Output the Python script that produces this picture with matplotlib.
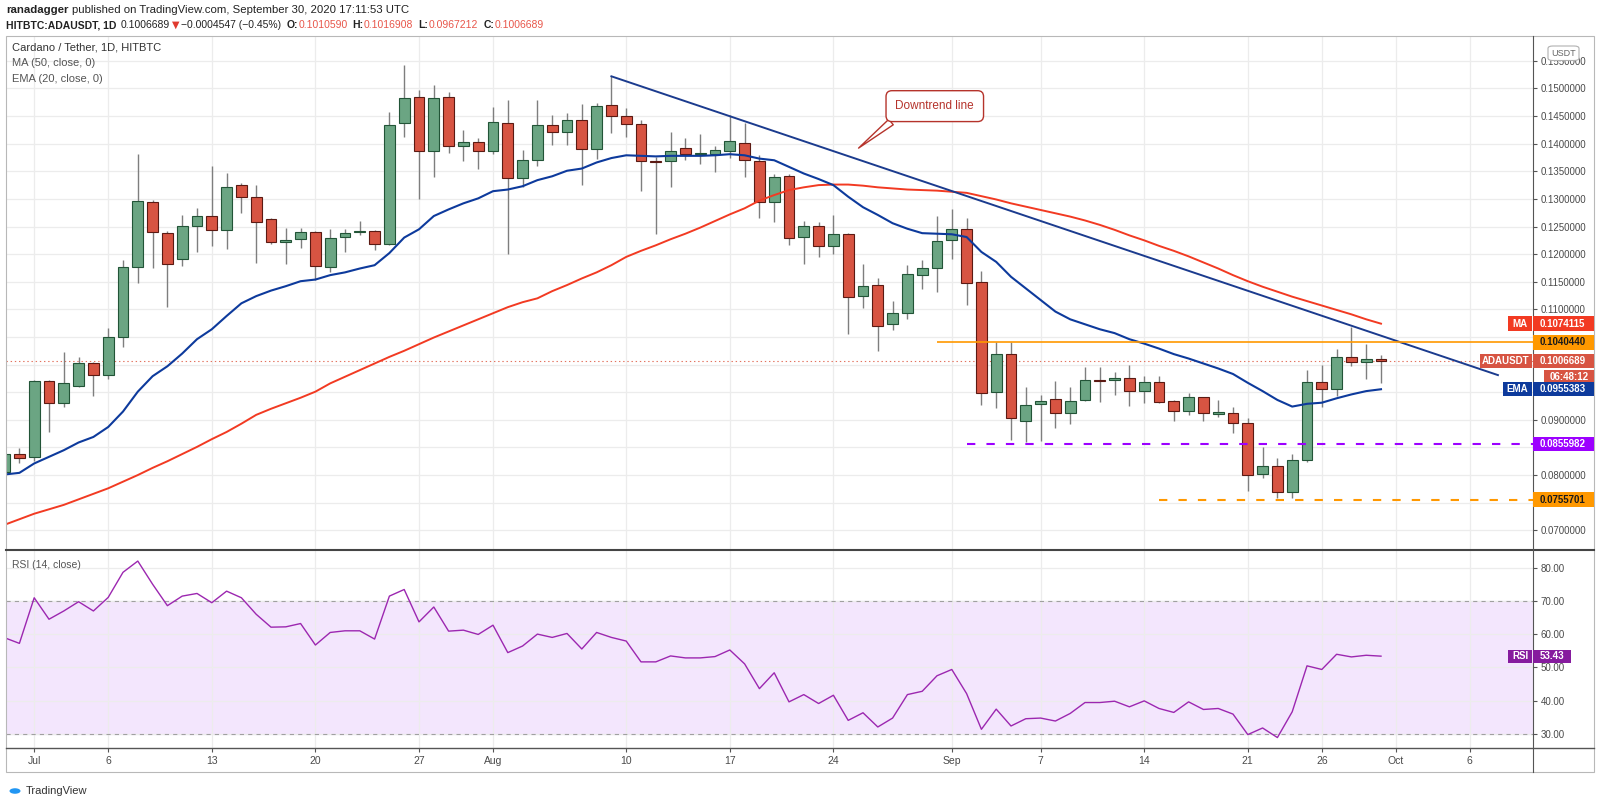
import numpy as np
import pandas as pd
import matplotlib
matplotlib.use("Agg")
import matplotlib.pyplot as plt
from matplotlib.patches import Rectangle, FancyBboxPatch, Circle
from matplotlib.lines import Line2D
from matplotlib.ticker import FormatStrFormatter, FuncFormatter

plt.rcParams['font.family'] = ['Liberation Sans', 'DejaVu Sans']
plt.rcParams['lines.scale_dashes'] = False

# daily candles ADA/USDT, first candle 2020-06-29
start = pd.Timestamp("2020-06-29")
opens = [0.0806, 0.0839, 0.0833, 0.0970, 0.0930, 0.0961, 0.1002, 0.0982, 0.1050, 0.1177,
         0.1295, 0.1239, 0.1192, 0.1251, 0.1269, 0.1244, 0.1326, 0.1303, 0.1263, 0.1222,
         0.1227, 0.1240, 0.1177, 0.1231, 0.1241, 0.1242, 0.1219, 0.1437, 0.1484, 0.1386,
         0.1484, 0.1396, 0.1403, 0.1387, 0.1438, 0.1337, 0.1371, 0.1433, 0.1421, 0.1442,
         0.1390, 0.1470, 0.1450, 0.1436, 0.1368, 0.1368, 0.1392, 0.1382, 0.1382, 0.1387,
         0.1402, 0.1368, 0.1295, 0.1342, 0.1231, 0.1251, 0.1215, 0.1236, 0.1125, 0.1145,
         0.1073, 0.1093, 0.1162, 0.1175, 0.1225, 0.1245, 0.1149, 0.0950, 0.1019, 0.0898,
         0.0928, 0.0938, 0.0912, 0.0935, 0.0972, 0.0972, 0.0976, 0.0952, 0.0968, 0.0934,
         0.0916, 0.0941, 0.0910, 0.0913, 0.0895, 0.0802, 0.0816, 0.0769, 0.0827, 0.0969,
         0.0955, 0.1013, 0.1004, 0.1010590]
highs = [0.0853, 0.0849, 0.0972, 0.0972, 0.1023, 0.1014, 0.1004, 0.1066, 0.1190, 0.1381,
         0.1298, 0.1242, 0.1271, 0.1284, 0.1359, 0.1347, 0.1328, 0.1326, 0.1266, 0.1248,
         0.1247, 0.1242, 0.1245, 0.1245, 0.1260, 0.1244, 0.1458, 0.1542, 0.1498, 0.1507,
         0.1493, 0.1425, 0.1411, 0.1467, 0.1479, 0.1388, 0.1479, 0.1452, 0.1456, 0.1472,
         0.1474, 0.1522, 0.1464, 0.1443, 0.1376, 0.1421, 0.1411, 0.1417, 0.1396, 0.1452,
         0.1438, 0.1379, 0.1346, 0.1346, 0.1260, 0.1259, 0.1271, 0.1239, 0.1182, 0.1156,
         0.1116, 0.1180, 0.1189, 0.1269, 0.1282, 0.1265, 0.1169, 0.1041, 0.1041, 0.0960,
         0.0945, 0.0971, 0.0959, 0.0996, 0.0995, 0.0987, 0.0999, 0.0979, 0.0979, 0.0935,
         0.0948, 0.0942, 0.0935, 0.0923, 0.0904, 0.0851, 0.0830, 0.0838, 0.0990, 0.0999,
         0.1028, 0.1068, 0.1037, 0.1016908]
lows = [0.0795, 0.0822, 0.0826, 0.0878, 0.0924, 0.0960, 0.0943, 0.0974, 0.1031, 0.1147,
        0.1175, 0.1104, 0.1178, 0.1204, 0.1215, 0.1210, 0.1274, 0.1184, 0.1219, 0.1183,
        0.1212, 0.1154, 0.1168, 0.1204, 0.1234, 0.1207, 0.1217, 0.1412, 0.1299, 0.1340,
        0.1383, 0.1369, 0.1355, 0.1382, 0.1201, 0.1322, 0.1359, 0.1397, 0.1397, 0.1325,
        0.1372, 0.1420, 0.1412, 0.1314, 0.1236, 0.1321, 0.1371, 0.1363, 0.1348, 0.1374,
        0.1339, 0.1265, 0.1259, 0.1216, 0.1182, 0.1194, 0.1200, 0.1055, 0.1102, 0.1025,
        0.1063, 0.1082, 0.1137, 0.1132, 0.1191, 0.1108, 0.0926, 0.0922, 0.0863, 0.0859,
        0.0862, 0.0886, 0.0892, 0.0934, 0.0933, 0.0945, 0.0925, 0.0931, 0.0930, 0.0897,
        0.0909, 0.0898, 0.0906, 0.0877, 0.0772, 0.0794, 0.0759, 0.0758, 0.0824, 0.0923,
        0.0943, 0.0998, 0.0974, 0.0967212]
closes = [0.0839, 0.0830, 0.0970, 0.0931, 0.0966, 0.1002, 0.0982, 0.1050, 0.1177, 0.1297,
          0.1240, 0.1183, 0.1251, 0.1269, 0.1244, 0.1322, 0.1303, 0.1259, 0.1222, 0.1225,
          0.1240, 0.1178, 0.1230, 0.1239, 0.1242, 0.1219, 0.1434, 0.1483, 0.1386, 0.1483,
          0.1396, 0.1403, 0.1387, 0.1439, 0.1337, 0.1371, 0.1433, 0.1421, 0.1442, 0.1390,
          0.1468, 0.1450, 0.1436, 0.1368, 0.1367, 0.1387, 0.1382, 0.1384, 0.1388, 0.1405,
          0.1370, 0.1295, 0.1340, 0.1229, 0.1251, 0.1215, 0.1236, 0.1123, 0.1142, 0.1070,
          0.1093, 0.1164, 0.1175, 0.1224, 0.1245, 0.1148, 0.0949, 0.1019, 0.0903, 0.0927,
          0.0934, 0.0913, 0.0934, 0.0973, 0.0971, 0.0976, 0.0952, 0.0968, 0.0933, 0.0916,
          0.0942, 0.0912, 0.0915, 0.0895, 0.0801, 0.0816, 0.0769, 0.0827, 0.0969, 0.0955,
          0.1013, 0.1005, 0.1011, 0.1006689]
ema20 = [0.0801, 0.0804, 0.0821, 0.0833, 0.0845, 0.0859, 0.0869, 0.0887, 0.0915, 0.0951,
         0.0979, 0.0997, 0.1020, 0.1046, 0.1064, 0.1088, 0.1111, 0.1124, 0.1134, 0.1142,
         0.1151, 0.1154, 0.1162, 0.1167, 0.1174, 0.1180, 0.1202, 0.1230, 0.1245, 0.1269,
         0.1281, 0.1292, 0.1301, 0.1314, 0.1317, 0.1323, 0.1334, 0.1341, 0.1351, 0.1355,
         0.1366, 0.1374, 0.1379, 0.1378, 0.1377, 0.1378, 0.1378, 0.1378, 0.1379, 0.1381,
         0.1379, 0.1373, 0.1370, 0.1358, 0.1346, 0.1336, 0.1325, 0.1304, 0.1285, 0.1271,
         0.1256, 0.1246, 0.1238, 0.1237, 0.1236, 0.1231, 0.1204, 0.1186, 0.1159, 0.1138,
         0.1117, 0.1096, 0.1082, 0.1073, 0.1064, 0.1057, 0.1046, 0.1038, 0.1029, 0.1019,
         0.1011, 0.1002, 0.0993, 0.0983, 0.0967, 0.0952, 0.0936, 0.0924, 0.0929, 0.0931,
         0.0939, 0.0946, 0.0952, 0.0955383]
ma50 = [0.0710, 0.0720, 0.0730, 0.0738, 0.0746, 0.0756, 0.0766, 0.0776, 0.0788, 0.0800,
        0.0813, 0.0825, 0.0838, 0.0851, 0.0865, 0.0878, 0.0893, 0.0909, 0.0920, 0.0930,
        0.0940, 0.0951, 0.0966, 0.0978, 0.0990, 0.1002, 0.1014, 0.1025, 0.1037, 0.1049,
        0.1060, 0.1071, 0.1082, 0.1093, 0.1104, 0.1113, 0.1120, 0.1133, 0.1144, 0.1156,
        0.1167, 0.1180, 0.1195, 0.1206, 0.1216, 0.1227, 0.1237, 0.1248, 0.1260, 0.1272,
        0.1283, 0.1297, 0.1307, 0.1316, 0.1321, 0.1325, 0.1326, 0.1326, 0.1324, 0.1321,
        0.1319, 0.1317, 0.1316, 0.1315, 0.1313, 0.1311, 0.1305, 0.1299, 0.1292, 0.1286,
        0.1280, 0.1274, 0.1268, 0.1261, 0.1253, 0.1244, 0.1234, 0.1225, 0.1215, 0.1206,
        0.1196, 0.1185, 0.1174, 0.1162, 0.1151, 0.1141, 0.1132, 0.1123, 0.1115, 0.1107,
        0.1099, 0.1091, 0.1082, 0.1074115]
rsi14 = [59.0, 57.3, 71.1, 64.6, 67.1, 69.9, 67.1, 71.2, 78.8, 82.2,
         75.2, 68.7, 71.6, 72.4, 69.6, 73.1, 71.1, 66.1, 62.2, 62.3,
         63.3, 56.8, 60.6, 61.1, 61.1, 58.6, 71.6, 73.6, 63.8, 68.3,
         61.0, 61.3, 60.0, 62.8, 54.5, 56.5, 60.1, 59.1, 60.3, 55.6,
         60.6, 59.1, 58.0, 51.7, 51.7, 53.5, 52.9, 52.9, 53.3, 55.3,
         51.1, 43.6, 48.4, 39.6, 41.8, 39.1, 41.6, 34.0, 36.3, 32.0,
         34.7, 41.8, 42.8, 47.5, 49.4, 42.1, 31.3, 37.4, 32.3, 34.5,
         34.7, 33.8, 36.1, 39.4, 39.4, 39.8, 38.1, 39.9, 37.6, 36.4,
         39.6, 37.3, 37.6, 35.9, 29.7, 31.7, 28.8, 36.6, 50.5, 49.4,
         54.0, 53.2, 53.7, 53.43]

tick_dates = pd.to_datetime(["2020-07-01", "2020-07-06", "2020-07-13", "2020-07-20", "2020-07-27",
                             "2020-08-01", "2020-08-10", "2020-08-17", "2020-08-24", "2020-09-01",
                             "2020-09-07", "2020-09-14", "2020-09-21", "2020-09-26", "2020-10-01",
                             "2020-10-06"])
tick_labels = ["Jul", "6", "13", "20", "27", "Aug", "10", "17", "24", "Sep", "7", "14", "21", "26", "Oct", "6"]

# drawn lines
trend_days = [41, 100.9]
trend_prices = [0.1522, 0.0981]
resistance, res_from = 0.1040440, pd.Timestamp("2020-08-31")
support_hi, sup_hi_from = 0.0855982, pd.Timestamp("2020-09-02")
support_lo, sup_lo_from = 0.0755701, pd.Timestamp("2020-09-15")

# ---------------------------------------------------------------
W, H = 1600, 805
L, R, RA = 6, 1533.3, 1594
TOP, MID, BOT, FOOT = 36, 550, 748.3, 772.3
XMIN, XMAX = 0.095, 103.29

fig = plt.figure(figsize=(16, 8.05), dpi=100)
fig.patch.set_facecolor("white")


def box(top, bottom):
    return [L / W, 1 - bottom / H, (R - L) / W, (bottom - top) / H]


ax = fig.add_axes(box(TOP, MID))
rx = fig.add_axes(box(MID, BOT), sharex=ax)

dates = pd.date_range(start, periods=len(closes))
x = np.asarray((dates - start).days, dtype=float)
tick_x = np.asarray((tick_dates - start).days, dtype=float)
o, h, l, c = map(np.array, (opens, highs, lows, closes))

ax.set_xlim(XMIN, XMAX)
ax.set_ylim(0.06643, 0.1595)
rx.set_ylim(25.55, 85.55)

grid_c = "#ececec"
for a in (ax, rx):
    for s in a.spines.values():
        s.set_visible(False)
    a.set_axisbelow(True)
    a.yaxis.tick_right()
    a.tick_params(axis="y", direction="out", length=3, width=0.8, color="#555555",
                  pad=2.5, labelsize=7, labelcolor="#4a4a4a")
    a.grid(True, color=grid_c, lw=0.9)

# price labels hidden behind the coloured tags are left blank
covered = [ma50[-1], resistance, closes[-1], ema20[-1], support_hi, support_lo]


def price_fmt(v, pos):
    if any(abs(v - t) < 0.0015 for t in covered):
        return ""
    return "%.7f" % v


ax.set_yticks(np.arange(0.07, 0.1551, 0.005))
ax.yaxis.set_major_formatter(FuncFormatter(price_fmt))
rx.set_yticks([30, 40, 50, 60, 70, 80])
rx.yaxis.set_major_formatter(FormatStrFormatter("%.2f"))
rx.set_xticks(tick_x)
rx.set_xticklabels(tick_labels)
ax.tick_params(axis="x", length=0, labelbottom=False)
rx.tick_params(axis="x", direction="out", length=3, width=0.8, color="#555555",
               pad=2.5, labelsize=7.5, labelcolor="#4a4a4a")

# candles
up = c >= o
body_lo = np.minimum(o, c)
body_h = np.maximum(np.abs(c - o), 0.00012)
ax.vlines(x, l, h, color="#7e7e7e", lw=1, zorder=3)
ax.bar(x, body_h, bottom=body_lo, width=0.72,
       color=np.where(up, "#6ba583", "#d75442"),
       edgecolor=np.where(up, "#225437", "#5b1a13"), linewidth=0.8, zorder=4)

ax.plot(x, ma50, color="#f23a22", lw=1.4, zorder=5)
ax.plot(x, ema20, color="#0d3a9c", lw=1.5, zorder=5)
ax.plot(trend_days, trend_prices, color="#1b3b8e", lw=1.4, zorder=5)

ax.hlines(resistance, (res_from - start).days, XMAX, color="#ff9800", lw=1.2, zorder=5)
ax.hlines(support_hi, (sup_hi_from - start).days, XMAX, color="#9c00ff", lw=1.5,
          linestyles=[(0, (6, 8))], zorder=5)
ax.hlines(support_lo, (sup_lo_from - start).days, XMAX, color="#ff9800", lw=1.5,
          linestyles=[(0, (6, 8))], zorder=5)
ax.axhline(closes[-1], color="#e3735f", lw=0.8, ls=(0, (1, 2)), zorder=2)

# callout
ax.annotate("Downtrend line", xy=(57.7, 0.1392), xytext=(62.85, 0.1468),
            ha="center", va="center", fontsize=8.5, color="#b5332b", zorder=8,
            bbox=dict(boxstyle="round,pad=0.8,rounding_size=0.5", fc="white", ec="#b5332b", lw=1),
            arrowprops=dict(arrowstyle="wedge,tail_width=0.6,shrink_factor=0.5", fc="white",
                            ec="#b5332b", lw=1, relpos=(0.1, 0.0), shrinkA=0, shrinkB=0))

# RSI panel
rx.axhspan(30, 70, color="#f3e6fd", zorder=0)
rx.axhline(70, color="#a0a0a0", lw=0.8, ls=(0, (3, 3)), zorder=1)
rx.axhline(30, color="#a0a0a0", lw=0.8, ls=(0, (3, 3)), zorder=1)
rx.plot(x, rsi14, color="#9c27b0", lw=1.0, zorder=3)


# price tags on the right axis
def tag(axis, value, text, fc, tc, x0, x1, hh=14.5, center=False, dy=0.0):
    yd = axis.transData.transform((0, value))[1] + dy
    fig.add_artist(Rectangle((x0 / W, (yd - hh / 2) / H), (x1 - x0) / W, hh / H,
                             transform=fig.transFigure, fc=fc, ec="none", zorder=20))
    xt = (x0 + x1) / 2 if center else x0 + 6.5
    fig.text(xt / W, yd / H, text, color=tc, fontsize=7, fontweight="bold",
             ha="center" if center else "left", va="center", zorder=21)


tag(ax, ma50[-1], "MA", "#f23a22", "white", 1508.3, 1531.7, center=True)
tag(ax, ma50[-1], "%.7f" % ma50[-1], "#f23a22", "white", R, RA)
tag(ax, resistance, "%.7f" % resistance, "#ff9800", "#1a1a1a", R, RA)
tag(ax, closes[-1], "ADAUSDT", "#d75442", "white", 1480, 1531.7, center=True)
tag(ax, closes[-1], "%.7f" % closes[-1], "#d75442", "white", R, RA)
tag(ax, closes[-1], "06:48:12", "#d75442", "white", 1544, RA, center=True, dy=-16.3)
tag(ax, ema20[-1], "EMA", "#0d3a9c", "white", 1502.7, 1531.7, center=True)
tag(ax, ema20[-1], "%.7f" % ema20[-1], "#0d3a9c", "white", R, RA)
tag(ax, support_hi, "%.7f" % support_hi, "#9c00ff", "white", R, RA)
tag(ax, support_lo, "%.7f" % support_lo, "#ff9800", "#1a1a1a", R, RA)
tag(rx, rsi14[-1], "RSI", "#861b9e", "white", 1508.3, 1531.7, hh=13, center=True)
tag(rx, rsi14[-1], "%.2f" % rsi14[-1], "#861b9e", "white", R, 1571, hh=13)

# USDT badge
fig.add_artist(FancyBboxPatch((1548 / W, 1 - 60.5 / H), 31 / W, 14.5 / H,
                              boxstyle="round,pad=0,rounding_size=0.003",
                              transform=fig.transFigure, fc="white", ec="#b0b0b0",
                              lw=0.8, zorder=22))
fig.text(1563.5 / W, 1 - 53.3 / H, "USDT", fontsize=6.5, color="#666666",
         ha="center", va="center", zorder=23)

# frame and separators
fig.add_artist(Rectangle((L / W, 1 - FOOT / H), (RA - L) / W, (FOOT - TOP) / H,
                         transform=fig.transFigure, fill=False, ec="#b8b8b8", lw=0.8, zorder=19))
fig.add_artist(Line2D([L / W, RA / W], [1 - MID / H] * 2, color="#444444", lw=1.5, zorder=19))
fig.add_artist(Line2D([L / W, RA / W], [1 - BOT / H] * 2, color="#555555", lw=1.0, zorder=19))
fig.add_artist(Line2D([R / W] * 2, [1 - TOP / H, 1 - FOOT / H], color="#555555", lw=0.8, zorder=19))

# header, laid out piece by piece
renderer = fig.canvas.get_renderer()


def text_run(x0, ypx, pieces):
    xx = x0
    for s, gap, kw in pieces:
        t = fig.text(xx / W, 1 - ypx / H, s, va="center", **kw)
        xx += t.get_window_extent(renderer=renderer).width + gap


dark = dict(fontsize=8.2, color="#222222")
text_run(6, 10, [("ranadagger", 3, dict(dark, fontweight="bold")),
                 ("published on TradingView.com, September 30, 2020 17:11:53 UTC", 0, dark)])

norm = dict(fontsize=7.5, color="#222222")
boldk = dict(norm, fontweight="bold")
redv = dict(fontsize=7.5, color="#e8564a")
run = [("HITBTC:ADAUSDT, 1D", 4, boldk),
       ("%.7f" % closes[-1], 2, norm),
       ("\u25BC", 2, dict(fontsize=7, color="#e03b2f", family="DejaVu Sans")),
       ("\u22120.0004547 (\u22120.45%)", 5, norm)]
for lab, val in [("O:", opens[-1]), ("H:", highs[-1]), ("L:", lows[-1]), ("C:", closes[-1])]:
    run += [(lab, 0.5, boldk), ("%.7f" % val, 5, redv)]
text_run(6, 25, run)

# legends
fig.text(12 / W, 1 - 47.5 / H, "Cardano / Tether, 1D, HITBTC", fontsize=8, color="#333333", va="center")
fig.text(12 / W, 1 - 63 / H, "MA (50, close, 0)", fontsize=8, color="#555555", va="center")
fig.text(12 / W, 1 - 79 / H, "EMA (20, close, 0)", fontsize=8, color="#555555", va="center")
fig.text(12 / W, 1 - 565 / H, "RSI (14, close)", fontsize=7.5, color="#555555", va="center")

# logo
fig.add_artist(Circle((15 / W, 1 - 791 / H), 5.5 / W, transform=fig.transFigure, fc="#2196f3",
                      ec="none", zorder=20))
fig.text(26 / W, 1 - 791 / H, "TradingView", fontsize=8, color="#333333", va="center")

fig.savefig("out.png", dpi=100)
